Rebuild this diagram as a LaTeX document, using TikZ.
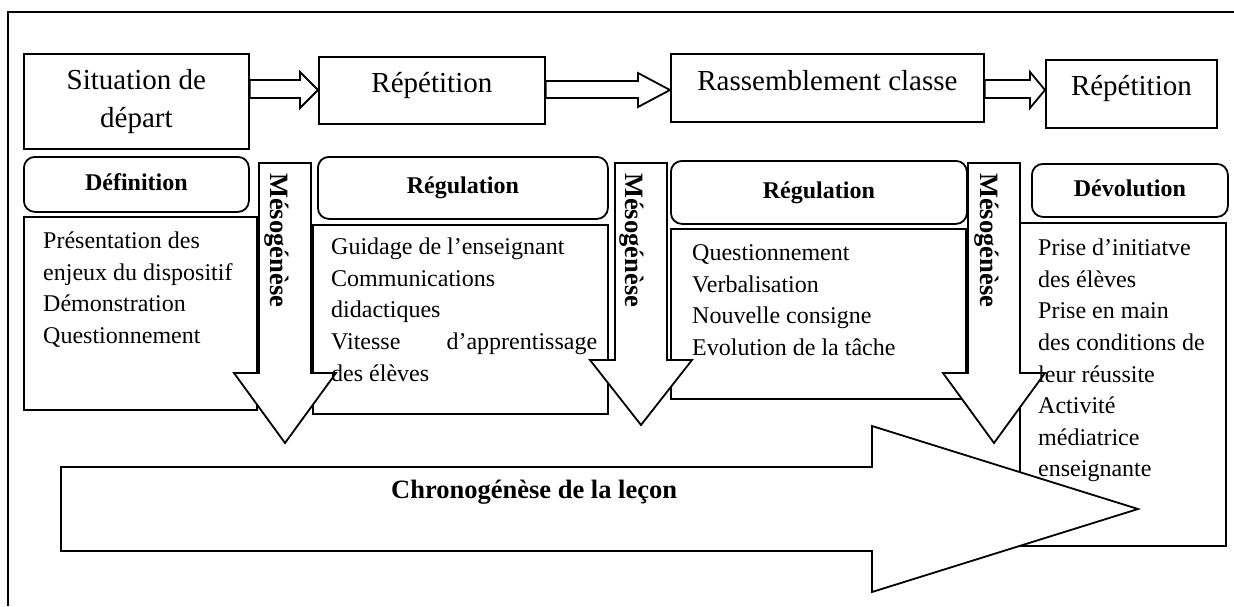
\documentclass[tikz,border=0pt]{standalone}
\usepackage{fontspec}
\setmainfont{Liberation Serif}
\begin{document}
\begin{tikzpicture}[x=1pt,y=-1pt,line join=miter,
  lw/.style={line width=1.8pt},
  stepbox/.style={draw,lw,inner sep=0pt,anchor=north west,align=center,font=\fontsize{29}{38.5}\selectfont},
  headbox/.style={draw,lw,rounded corners=11pt,inner sep=0pt,anchor=north west,text height=17pt,text depth=5pt,font=\fontsize{24}{30}\selectfont\bfseries},
  contentbox/.style={draw,lw,inner sep=0pt,anchor=north west},
  bodytext/.style={anchor=north west,inner sep=0pt,align=left,font=\fontsize{24}{31.6}\selectfont},
  hollow/.style={draw,lw,fill=white},
  mesotext/.style={rotate=-90,anchor=west,inner sep=0pt,font=\fontsize{26.5}{30}\selectfont\bfseries},
  chrono/.style={anchor=base west,inner sep=0pt,font=\fontsize{26.5}{30}\selectfont\bfseries}
]
\useasboundingbox (0,0) rectangle (1234,606);
\fill[white] (0,0) rectangle (1234,606);
% outer frame
\draw[lw] (8,606) -- (8,12) -- (1234,12);

% top step boxes
\node[stepbox,minimum width=225pt,minimum height=95pt] (s1) at (23,53) {Situation de\\départ};
\node[stepbox,minimum width=226pt,minimum height=67pt,text height=20pt,text depth=16pt] (s2) at (318,56) {Répétition};
\node[stepbox,minimum width=313pt,minimum height=68pt,text height=20pt,text depth=15pt] (s3) at (670,53) {Rassemblement classe};
\node[stepbox,minimum width=171pt,minimum height=68pt,text height=20pt,text depth=17pt] (s4) at (1045,59) {Répétition};

% hollow arrows between step boxes
\draw[hollow] (s1.east |- 0,80) -- (300,80) -- (300,72) -- (s2.west |- 0,90) -- (300,108) -- (300,98) -- (s1.east |- 0,98) -- cycle;
\draw[hollow] (s2.east |- 0,81) -- (638,81) -- (638,73) -- (s3.west |- 0,90) -- (638,107) -- (638,98) -- (s2.east |- 0,98) -- cycle;
\draw[hollow] (s3.east |- 0,80) -- (1030,80) -- (1030,72) -- (s4.west |- 0,90) -- (1030,108) -- (1030,98) -- (s3.east |- 0,98) -- cycle;

% header boxes
\node[headbox,minimum width=225pt,minimum height=55pt] (h1) at (23,156) {Définition};
\node[headbox,minimum width=290pt,minimum height=62pt] (h2) at (317,156) {Régulation};
\node[headbox,minimum width=296pt,minimum height=63pt] (h3) at (670,160) {Régulation};
\node[headbox,minimum width=196pt,minimum height=53pt] (h4) at (1031,163) {Dévolution};

% content boxes
\node[contentbox,minimum width=233pt,minimum height=193pt] (cA) at (23,216) {};
\node[contentbox,minimum width=295pt,minimum height=189pt] (cB) at (312,224) {};
\node[contentbox,minimum width=295pt,minimum height=170pt] (cC) at (670,228) {};
\node[contentbox,minimum width=206pt,minimum height=323pt] (cD) at (1019,222) {};

% down arrows (Mésogénèse)
\draw[hollow] (259,163) -- (311,163) -- (311,373) -- (336,373) -- (285,443) -- (234,373) -- (259,373) -- cycle;
\draw[hollow] (615,163) -- (667,163) -- (667,360) -- (692,360) -- (641,425) -- (590,360) -- (615,360) -- cycle;
\draw[hollow] (968,163) -- (1020,163) -- (1020,373) -- (1045,373) -- (994,443) -- (943,373) -- (968,373) -- cycle;
\node[mesotext] (m1) at (277,173) {Mésogénèse};
\node[mesotext] (m2) at (632,173) {Mésogénèse};
\node[mesotext] (m3) at (987,173) {Mésogénèse};

% big arrow
\draw[hollow] (61,467) -- (872,467) -- (872,426) -- (1138,509) -- (872,592) -- (872,551) -- (61,551) -- cycle;
\node[chrono] (chr) at (391,498) {Chronogénèse de la leçon};

% content texts
\node[bodytext] (tA) at (43,226.4) {\strut Présentation des\\enjeux du dispositif\\Démonstration\\Questionnement};
\node[bodytext] (tB) at (331,232.4) {\strut Guidage de l’enseignant\\Communications\\didactiques\\\makebox[266pt][l]{Vitesse\hfill d’apprentissage}\\des élèves};
\node[bodytext] (tC) at (692,238.4) {\strut Questionnement\\Verbalisation\\Nouvelle consigne\\Evolution de la tâche};
\node[bodytext] (tD) at (1038,233.4) {\strut Prise d’initiatve\\des élèves\\Prise en main\\des conditions de\\leur réussite\\Activité\\médiatrice\\enseignante};
\end{tikzpicture}
\end{document}
